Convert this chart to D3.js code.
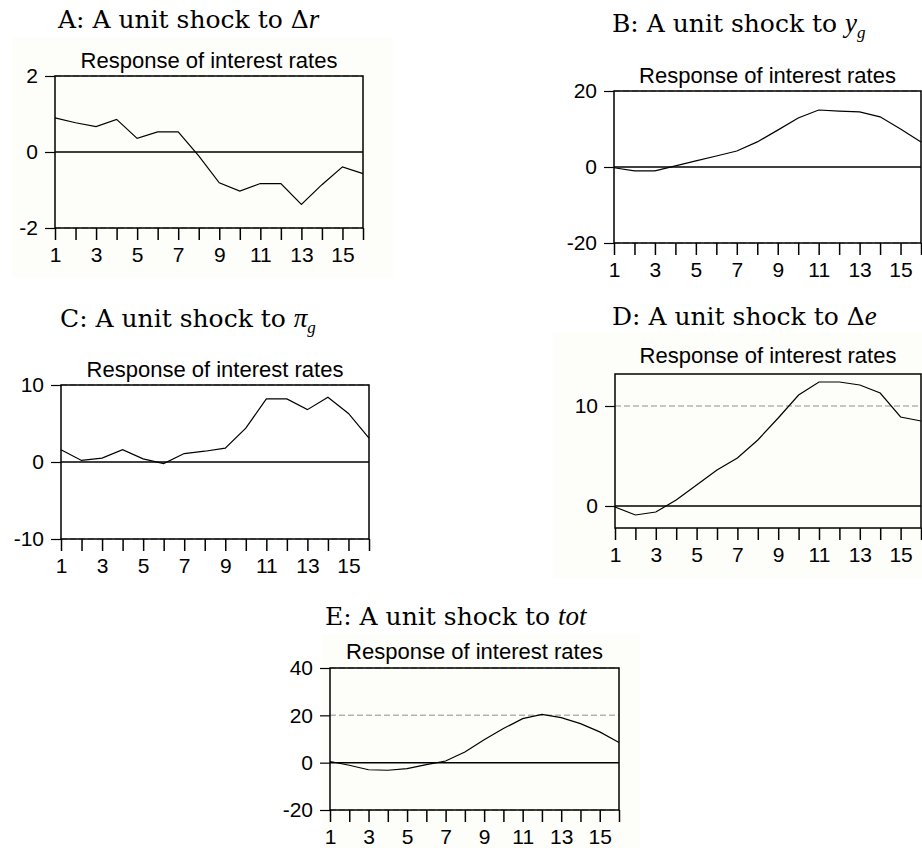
<!DOCTYPE html>
<html>
<head>
<meta charset="utf-8">
<script src="https://cdn.jsdelivr.net/npm/d3@7"></script>
<style>
  body { margin: 0; background: #fff; }
  svg { display: block; }
  .resp-title { font-family: "Liberation Sans", Arial, sans-serif; font-size: 22px; }
  .axis text { font-family: "Liberation Sans", Arial, sans-serif; font-size: 21px; fill: #000; }
  .panel-title { font-family: "DejaVu Serif", serif; font-size: 25px; }
</style>
</head>
<body>
<svg id="chart" width="922" height="848"></svg>
<script>
// horizon (periods after the shock)
const periods = [1, 2, 3, 4, 5, 6, 7, 8, 9, 10, 11, 12, 13, 14, 15, 16];
const periodLabels = ["1", "", "3", "", "5", "", "7", "", "9", "", "11", "", "13", "", "15", ""];

// response of interest rates
const respA = [0.90, 0.77, 0.67, 0.86, 0.36, 0.53, 0.53, -0.10, -0.81, -1.03, -0.83, -0.83, -1.38, -0.86, -0.39, -0.57];
const respB = [-0.2, -1.0, -1.0, 0.3, 1.6, 2.9, 4.2, 6.6, 9.7, 12.9, 15.0, 14.7, 14.5, 13.2, 10.0, 6.6];
const respC = [1.6, 0.2, 0.5, 1.6, 0.4, -0.2, 1.1, 1.4, 1.8, 4.4, 8.2, 8.2, 6.8, 8.4, 6.3, 3.1];
const respD = [-0.1, -0.9, -0.6, 0.6, 2.1, 3.6, 4.8, 6.6, 8.8, 11.1, 12.4, 12.4, 12.1, 11.3, 8.9, 8.5];
const respE = [0.5, -1.1, -3.0, -3.2, -2.5, -0.8, 0.7, 4.5, 9.7, 14.4, 18.6, 20.4, 19.0, 16.5, 13.0, 8.5];

// y axis ticks per panel
const yTicksA = [-2, 0, 2];
const yTicksB = [-20, 0, 20];
const yTicksC = [-10, 0, 10];
const yTicksD = [0, 10];
const yTicksE = [-20, 0, 20, 40];

const subTitle = "Response of interest rates";

const svg = d3.select("#chart");

// very faint cream boxes behind some of the scanned panels
const backs = [
  { x: 12, y: 37, w: 381, h: 240 },
  { x: 553, y: 332, w: 369, h: 246 },
  { x: 322, y: 635, w: 318, h: 213 }
];
svg.selectAll("rect.back")
  .data(backs)
  .enter()
  .append("rect")
  .attr("class", "back")
  .attr("x", d => d.x).attr("y", d => d.y)
  .attr("width", d => d.w).attr("height", d => d.h)
  .attr("fill", "#fdfdfa");

const panels = [
  { id: "A", left: 55, top: 76, width: 308, height: 152, yDomain: [-2, 2], yTicks: yTicksA,
    values: respA, titleX: 58, titleY: 28, respY: 68,
    title: [{ t: "A: A unit shock to  Δ" }, { t: "r", italic: true }] },
  { id: "B", left: 614, top: 91, width: 307, height: 152, yDomain: [-20, 20], yTicks: yTicksB,
    values: respB, titleX: 612, titleY: 32, respY: 83,
    title: [{ t: "B: A unit shock to  " }, { t: "y", italic: true }, { t: "g", italic: true, sub: true }] },
  { id: "C", left: 61, top: 385, width: 308, height: 154, yDomain: [-10, 10], yTicks: yTicksC,
    values: respC, titleX: 60, titleY: 327, respY: 377,
    title: [{ t: "C: A unit shock to  " }, { t: "π", italic: true }, { t: "g", italic: true, sub: true }] },
  { id: "D", left: 615, top: 374, width: 306, height: 154, yDomain: [-2.2, 13.2], yTicks: yTicksD,
    values: respD, titleX: 612, titleY: 325, respY: 363,
    title: [{ t: "D: A unit shock to  Δ" }, { t: "e", italic: true }] },
  { id: "E", left: 330, top: 668, width: 289, height: 142, yDomain: [-20, 40], yTicks: yTicksE,
    values: respE, titleX: 325, titleY: 625, respY: 659,
    title: [{ t: "E: A unit shock to  " }, { t: "tot", italic: true }] }
];

panels.forEach(p => {
  const x = d3.scaleLinear().domain([1, 16]).range([p.left, p.left + p.width]);
  const y = d3.scaleLinear().domain(p.yDomain).range([p.top + p.height, p.top]);

  // panel heading
  const head = svg.append("text")
    .attr("class", "panel-title")
    .attr("x", p.titleX)
    .attr("y", p.titleY);
  p.title.forEach(s => {
    const ts = head.append("tspan").text(s.t);
    if (s.italic) ts.attr("font-family", "Liberation Serif, serif").attr("font-style", "italic")
      .attr("font-size", s.sub ? 17 : 27);
    if (s.sub) ts.attr("dy", 6);
  });

  svg.append("text")
    .attr("class", "resp-title")
    .attr("x", p.left + p.width / 2)
    .attr("y", p.respY)
    .attr("text-anchor", "middle")
    .text(subTitle);

  // dashed grid at the non-zero ticks
  svg.selectAll(null)
    .data(p.yTicks.filter(v => v !== 0))
    .enter()
    .append("line")
    .attr("x1", p.left).attr("x2", p.left + p.width)
    .attr("y1", d => y(d)).attr("y2", d => y(d))
    .attr("stroke", "#b4b4b4")
    .attr("stroke-width", 1.5)
    .attr("stroke-dasharray", "6,3");

  // zero line
  svg.append("line")
    .attr("x1", p.left).attr("x2", p.left + p.width)
    .attr("y1", y(0)).attr("y2", y(0))
    .attr("stroke", "#000")
    .attr("stroke-width", 1.5);

  // response line
  const line = d3.line()
    .x((d, i) => x(periods[i]))
    .y(d => y(d));
  svg.append("path")
    .datum(p.values)
    .attr("d", line)
    .attr("fill", "none")
    .attr("stroke", "#000")
    .attr("stroke-width", 1.2);

  // frame
  svg.append("rect")
    .attr("x", p.left).attr("y", p.top)
    .attr("width", p.width).attr("height", p.height)
    .attr("fill", "none")
    .attr("stroke", "#000")
    .attr("stroke-width", 1.5);

  // axes
  const xAxis = d3.axisBottom(x)
    .tickValues(periods)
    .tickFormat((d, i) => periodLabels[i])
    .tickSize(12)
    .tickSizeOuter(0)
    .tickPadding(7);
  const gx = svg.append("g")
    .attr("class", "axis")
    .attr("transform", `translate(0, ${p.top + p.height})`)
    .call(xAxis);
  gx.select(".domain").remove();
  gx.selectAll("line").attr("stroke", "#000").attr("stroke-width", 1.5);

  const yAxis = d3.axisLeft(y)
    .tickValues(p.yTicks)
    .tickFormat(d => String(d))
    .tickSize(10)
    .tickSizeOuter(0)
    .tickPadding(7);
  const gy = svg.append("g")
    .attr("class", "axis")
    .attr("transform", `translate(${p.left}, 0)`)
    .call(yAxis);
  gy.select(".domain").remove();
  gy.selectAll("line").attr("stroke", "#000").attr("stroke-width", 1.2);
});
</script>
</body>
</html>
